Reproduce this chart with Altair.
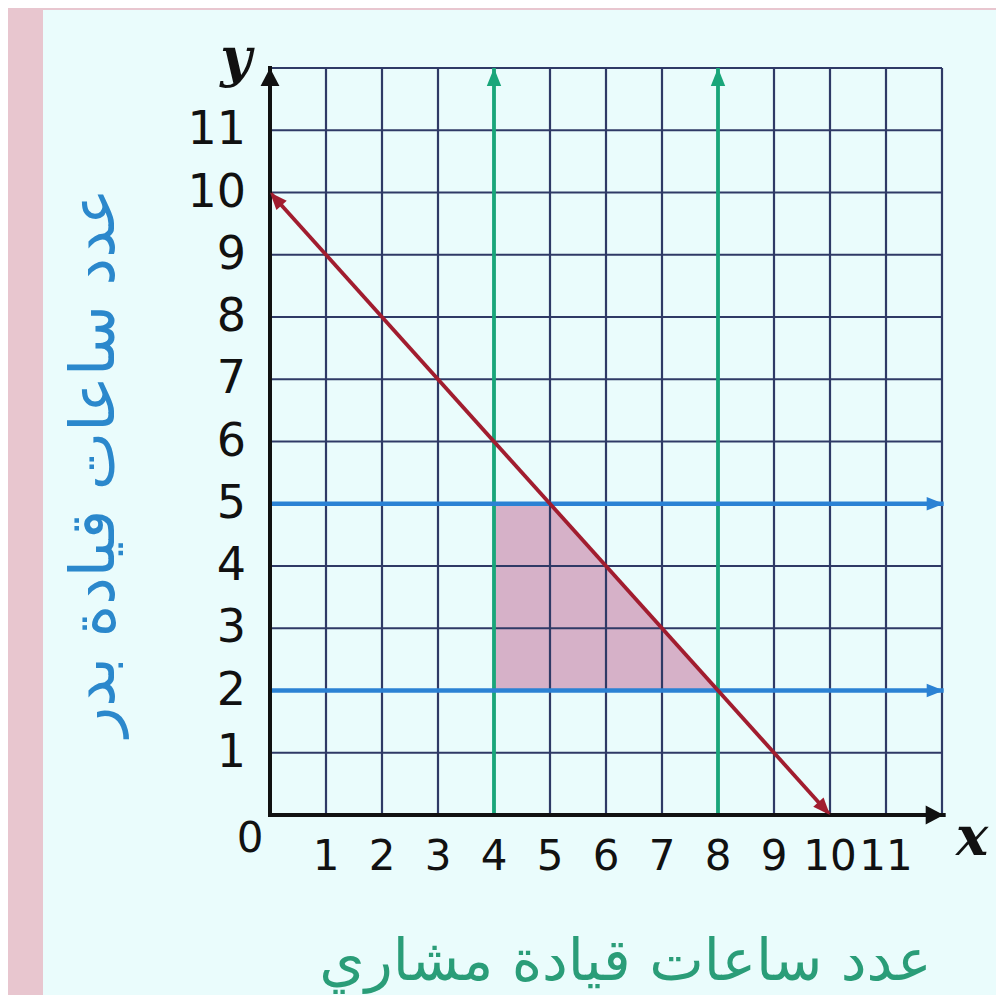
import altair as alt
import pandas as pd

# ---------------- data ----------------
x_ticks = [1, 2, 3, 4, 5, 6, 7, 8, 9, 10, 11]
y_ticks = [1, 2, 3, 4, 5, 6, 7, 8, 9, 10, 11]
grid_vals = [0, 1, 2, 3, 4, 5, 6, 7, 8, 9, 10, 11, 12]
green_x = [4, 8]            # vertical boundary lines x = 4, x = 8
blue_y = [2, 5]             # horizontal boundary lines y = 2, y = 5
red_x = [0, 10]             # x + y = 10
red_y = [10, 0]
region_x = [4, 5, 8]        # feasible region
region_top = [5, 5, 2]
region_base = [2, 2, 2]
x_title = "عدد ساعات قيادة مشاري"
y_title = "عدد ساعات قيادة بدر"

XMAX, YMAX = 12, 12
X_END = 12.03               # where horizontal arrows end

W, H = 672, 747

NAVY = "#2f3a66"
GREEN = "#19a67a"
BLUE = "#2b82d4"
RED = "#a11d2f"
BLACK = "#111111"
FILL = "#d6b1c8"
PANEL = "#eafcfc"
PINK = "#e8c6cf"

ARROW = "M0,0L-0.8,2L0.8,2Z"
ARROW_WIDE = "M0,0L-1.05,2L1.05,2Z"

xs = alt.Scale(domain=[0, XMAX], nice=False, zero=False)
ys = alt.Scale(domain=[0, YMAX], nice=False, zero=False)

x_axis = alt.Axis(title=x_title, labels=False, ticks=False, domain=False, grid=False, zindex=1,
                  titleFont="DejaVu Sans", titleFontSize=58, titleFontWeight="normal",
                  titleColor="#2a9d78", titleX=355, titleY=147,
                  titleBaseline="middle", titleAlign="center")
y_axis = alt.Axis(title=y_title, labels=False, ticks=False, domain=False, grid=False, zindex=1,
                  titleFont="DejaVu Sans", titleFontSize=62, titleFontWeight="normal",
                  titleColor="#2b88cc", titleAngle=270, titleX=-176, titleY=394,
                  titleBaseline="middle", titleAlign="center")


def X(f):
    return alt.X(f, type="quantitative", scale=xs, axis=x_axis)


def Y(f):
    return alt.Y(f, type="quantitative", scale=ys, axis=y_axis)


# ---------------- tables ----------------
vgrid_df = pd.DataFrame({"g": grid_vals, "lo": 0, "hi": YMAX})
hgrid_df = pd.DataFrame({"g": grid_vals, "lo": 0, "hi": XMAX})
region_df = pd.DataFrame({"x": region_x, "top": region_top, "base": region_base})
green_df = pd.DataFrame({"x": green_x, "lo": 0, "hi": YMAX})
blue_df = pd.DataFrame({"y": blue_y, "lo": 0, "hi": X_END})
red_df = pd.DataFrame({"x": red_x, "y": red_y, "o": [0, 1]})
axes_df = pd.DataFrame({"x": [0, 0], "y": [0, 0], "x2": [X_END, 0], "y2": [0, YMAX]})

arrows = []
for gx in green_x:
    arrows.append({"x": gx, "y": YMAX, "angle": 0, "shape": ARROW, "size": 324, "color": GREEN})
for by in blue_y:
    arrows.append({"x": X_END, "y": by, "angle": 90, "shape": ARROW, "size": 289, "color": BLUE})
arrows.append({"x": red_x[0], "y": red_y[0], "angle": 318, "shape": ARROW, "size": 300, "color": RED})
arrows.append({"x": red_x[1], "y": red_y[1], "angle": 138, "shape": ARROW, "size": 300, "color": RED})
arrows.append({"x": X_END, "y": 0, "angle": 90, "shape": ARROW_WIDE, "size": 324, "color": BLACK})
arrows.append({"x": 0, "y": YMAX, "angle": 0, "shape": ARROW_WIDE, "size": 324, "color": BLACK})
arrow_df = pd.DataFrame(arrows)

xlab_df = pd.DataFrame({"v": x_ticks, "z": 0, "t": [str(v) for v in x_ticks]})
ylab_df = pd.DataFrame({"v": y_ticks, "z": 0, "t": [str(v) for v in y_ticks]})
zero_df = pd.DataFrame({"v": [0], "z": [0], "t": ["0"]})
xname_df = pd.DataFrame({"x": [XMAX], "y": [0], "t": ["x"]})
yname_df = pd.DataFrame({"x": [0], "y": [YMAX], "t": ["y"]})

# ---------------- layers ----------------
panel = alt.Chart(pd.DataFrame({"k": [0]})).mark_rect(color=PANEL).encode(
    x=alt.value(-227), x2=alt.value(W + 120), y=alt.value(-58), y2=alt.value(H + 260))

region = alt.Chart(region_df).mark_area(color=FILL, opacity=1).encode(
    x=X("x"), y=Y("top"), y2="base")

vgrid = alt.Chart(vgrid_df).mark_rule(color=NAVY, strokeWidth=2.2).encode(
    x=X("g"), y=Y("lo"), y2="hi")
hgrid = alt.Chart(hgrid_df).mark_rule(color=NAVY, strokeWidth=2.2).encode(
    y=Y("g"), x=X("lo"), x2="hi")

green = alt.Chart(green_df).mark_rule(color=GREEN, strokeWidth=3.8).encode(
    x=X("x"), y=Y("lo"), y2="hi")
blue = alt.Chart(blue_df).mark_rule(color=BLUE, strokeWidth=4.5).encode(
    y=Y("y"), x=X("lo"), x2="hi")
red = alt.Chart(red_df).mark_line(color=RED, strokeWidth=3.8).encode(
    x=X("x"), y=Y("y"), order="o:Q")

axes_lines = alt.Chart(axes_df).mark_rule(color=BLACK, strokeWidth=4, strokeCap="square").encode(
    x=X("x"), y=Y("y"), x2="x2", y2="y2")

heads = alt.Chart(arrow_df).mark_point(filled=True, opacity=1, strokeWidth=0).encode(
    x=X("x"), y=Y("y"),
    shape=alt.Shape("shape:N", scale=None),
    angle=alt.Angle("angle:Q", scale=None),
    size=alt.Size("size:Q", scale=None),
    color=alt.Color("color:N", scale=None))

xlabels = alt.Chart(xlab_df).mark_text(font="DejaVu Sans", fontSize=42, color=BLACK,
                                       align="center", baseline="middle", dy=42).encode(
    x=X("v"), y=Y("z"), text="t:N")
zlabel = alt.Chart(zero_df).mark_text(font="DejaVu Sans", fontSize=42, color=BLACK,
                                      align="center", baseline="middle", dx=-20, dy=24).encode(
    x=X("v"), y=Y("z"), text="t:N")
ylabels = alt.Chart(ylab_df).mark_text(font="DejaVu Sans", fontSize=46, color=BLACK,
                                       align="right", baseline="middle", dx=-24).encode(
    x=X("z"), y=Y("v"), text="t:N")
xname = alt.Chart(xname_df).mark_text(font="DejaVu Serif", fontSize=54, fontStyle="italic",
                                      fontWeight="bold", color=BLACK, align="center",
                                      baseline="alphabetic", dx=30, dy=40).encode(
    x=X("x"), y=Y("y"), text="t:N")
yname = alt.Chart(yname_df).mark_text(font="DejaVu Serif", fontSize=54, fontStyle="italic",
                                      fontWeight="bold", color=BLACK, align="center",
                                      baseline="alphabetic", dx=-34, dy=8).encode(
    x=X("x"), y=Y("y"), text="t:N")

chart = alt.layer(
    panel, region, vgrid, hgrid, green, blue, red, axes_lines, heads,
    xlabels, zlabel, ylabels, xname, yname
).properties(
    width=W, height=H,
    padding={"left": 262, "top": 60, "right": 54, "bottom": 180},
    autosize=alt.AutoSizeParams(type="none"),
    background=PINK,
).configure_view(strokeWidth=0)

chart.save("out.html", embed_options={"renderer": "svg", "actions": False})
